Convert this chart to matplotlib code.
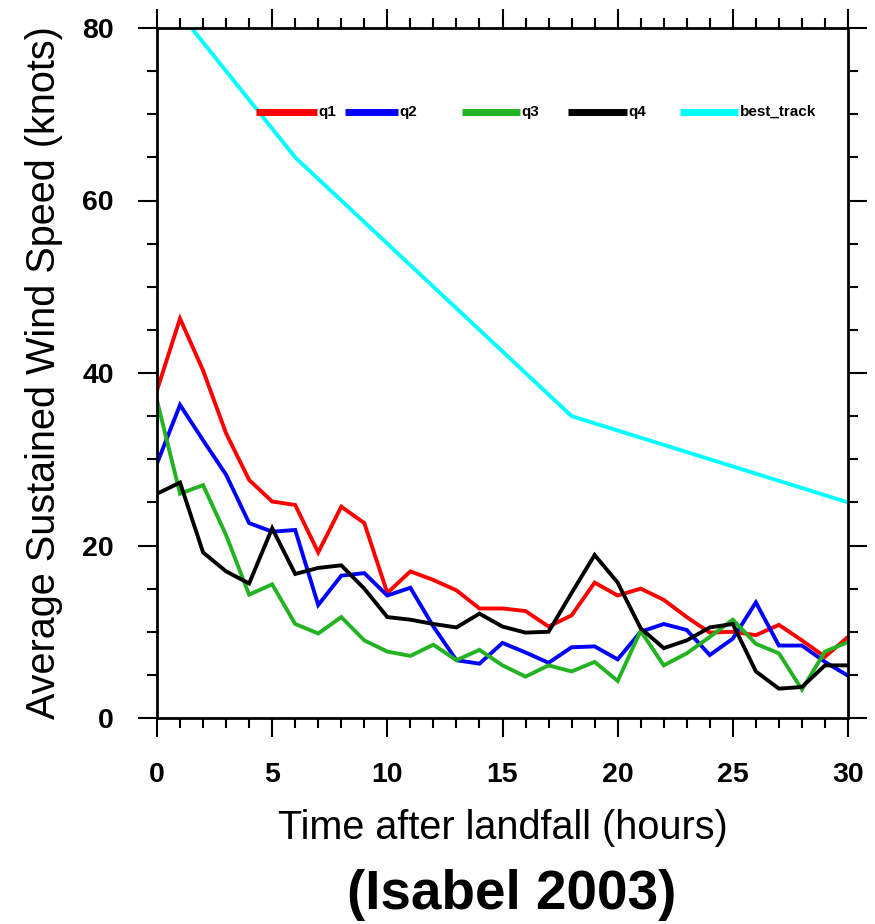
import matplotlib
matplotlib.use('Agg')
import matplotlib.pyplot as plt
from matplotlib.lines import Line2D
from matplotlib.ticker import MultipleLocator
from matplotlib import font_manager

hours = list(range(31))
q1 = [38.0, 46.3, 40.3, 33.0, 27.6, 25.1, 24.7, 19.2, 24.5, 22.6, 14.5,
      17.0, 16.0, 14.8, 12.7, 12.7, 12.4, 10.6, 11.9, 15.7, 14.2,
      15.0, 13.7, 11.7, 9.9, 10.0, 9.6, 10.8, 9.0, 7.1, 9.4]
q2 = [29.5, 36.3, 32.2, 28.2, 22.6, 21.6, 21.8, 13.1, 16.5, 16.8, 14.2,
      15.1, 10.6, 6.7, 6.3, 8.7, 7.6, 6.4, 8.2, 8.3, 6.8,
      10.0, 10.9, 10.2, 7.3, 9.2, 13.4, 8.4, 8.4, 6.5, 4.9]
q3 = [36.8, 26.0, 27.0, 21.2, 14.3, 15.5, 10.9, 9.8, 11.7, 9.0, 7.7,
      7.2, 8.5, 6.7, 7.9, 6.1, 4.8, 6.1, 5.4, 6.5, 4.3,
      10.1, 6.1, 7.5, 9.4, 11.4, 8.6, 7.5, 3.3, 7.7, 8.8]
q4 = [26.0, 27.3, 19.2, 17.0, 15.6, 22.0, 16.7, 17.4, 17.7, 15.0, 11.7,
      11.4, 10.9, 10.5, 12.1, 10.6, 9.9, 10.0, 14.5, 18.9, 15.7,
      10.4, 8.1, 9.0, 10.5, 10.9, 5.4, 3.4, 3.6, 6.1, 6.1]
bt_hours = [0, 6, 12, 18, 24, 30]
best_track = [85, 65, 50, 35, 30, 25]

series_names = ['q1', 'q2', 'q3', 'q4', 'best_track']
series_colors = ['#ff0000', '#0000ff', '#22b222', '#000000', '#00ffff']

xlabel = 'Time after landfall (hours)'
ylabel = 'Average Sustained Wind Speed (knots)'
title = '(Isabel 2003)'

avail = {f.name for f in font_manager.fontManager.ttflist}
sans = 'Liberation Sans' if 'Liberation Sans' in avail else 'DejaVu Sans'

fig = plt.figure(figsize=(8.75, 9.24), dpi=100)
ax = fig.add_axes([157 / 875, 1 - 718 / 924, 691 / 875, 690 / 924])

data = [(hours, q1), (hours, q2), (hours, q3), (hours, q4), (bt_hours, best_track)]
for (xs, ys), c in zip(data, series_colors):
    ax.plot(xs, ys, color=c, lw=2.8, solid_joinstyle='miter')

ax.set_xlim(0, 30)
ax.set_ylim(0, 80)
ax.xaxis.set_major_locator(MultipleLocator(5))
ax.xaxis.set_minor_locator(MultipleLocator(1))
ax.yaxis.set_major_locator(MultipleLocator(20))
ax.yaxis.set_minor_locator(MultipleLocator(5))

for s in ax.spines.values():
    s.set_linewidth(2.0)
ax.tick_params(which='both', direction='out', top=True, right=True, width=1.5)
ax.tick_params(which='major', length=14)
ax.tick_params(which='minor', length=7)
ax.tick_params(axis='x', which='major', pad=17.5)
ax.tick_params(axis='y', which='major', pad=17)

for lab in ax.get_xticklabels() + ax.get_yticklabels():
    lab.set_fontfamily(sans)
    lab.set_fontweight('bold')
    lab.set_fontsize(20.5)

ax.set_xlabel(xlabel, fontfamily=sans, fontsize=28.5, labelpad=15)
ax.set_ylabel(ylabel, fontfamily=sans, fontsize=28.5, labelpad=14)

# legend (manual, NCL-style)
leg_x = [(0.1433, 0.2315), (0.272, 0.349), (0.441, 0.525), (0.595, 0.680), (0.757, 0.841)]
leg_y = 0.878
for (x0, x1), c, name in zip(leg_x, series_colors, series_names):
    ax.add_line(Line2D([x0, x1], [leg_y, leg_y], transform=ax.transAxes,
                       color=c, lw=5, solid_capstyle='butt'))
    ax.text(x1 + 0.002, leg_y, name, transform=ax.transAxes, fontsize=11,
            fontweight='bold', fontfamily=sans, va='center', ha='left')

fig.text(512 / 875, 1 - 895 / 924, title, fontsize=39.5, fontweight='bold',
         fontfamily=sans, ha='center', va='center')

fig.savefig('out.png', dpi=100)
